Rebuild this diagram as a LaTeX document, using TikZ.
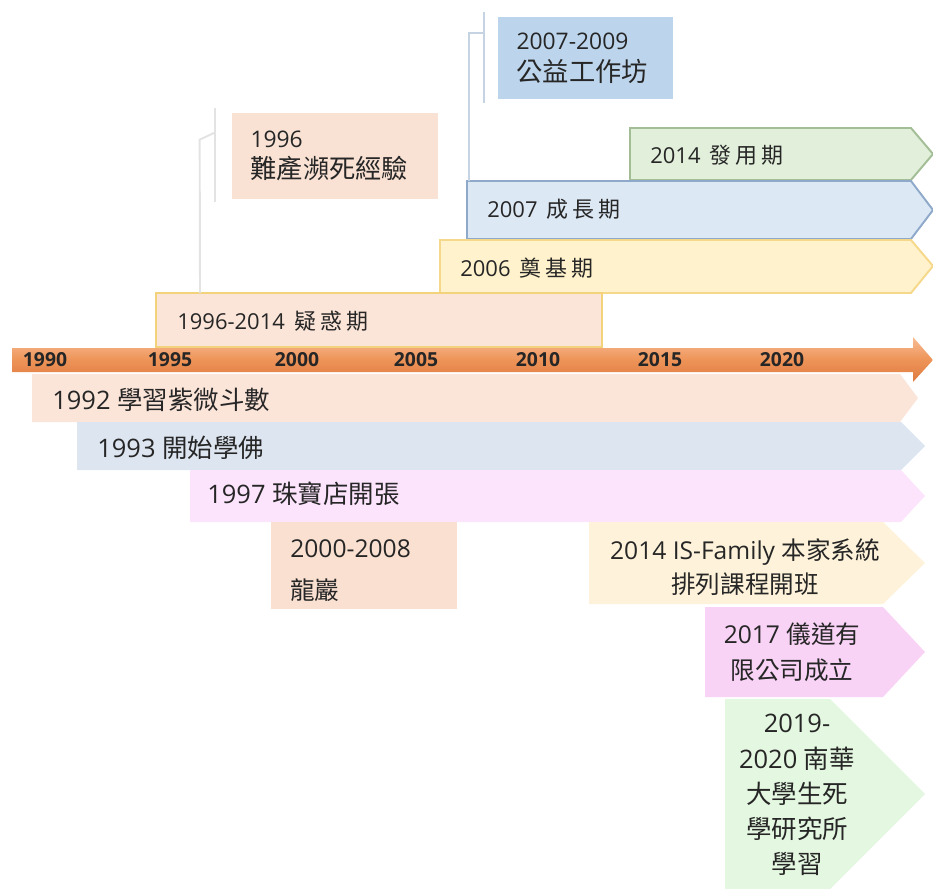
\documentclass[tikz,border=0pt]{standalone}
\usepackage{fontspec}
\setmainfont{Open Sans}
\newfontfamily\cjk{Noto Sans CJK TC}
\newfontfamily\cjkl[Scale=1.15]{Noto Sans CJK TC}
\newfontfamily\cjksp[LetterSpace=18]{Noto Sans CJK TC}
\usetikzlibrary{calc}

\definecolor{txt}{HTML}{262626}
\definecolor{workfill}{HTML}{BDD5EC}
\definecolor{nearfill}{HTML}{F9E2D4}
\definecolor{usefill}{HTML}{E2EFDA}
\definecolor{usedraw}{HTML}{A3BE96}
\definecolor{growfill}{HTML}{DDE8F5}
\definecolor{growdraw}{HTML}{8EA9C9}
\definecolor{basefill}{HTML}{FFF2CC}
\definecolor{basedraw}{HTML}{F5D88A}
\definecolor{doubtfill}{HTML}{FBE5D8}
\definecolor{doubtdraw}{HTML}{F2D27A}
\definecolor{axtop}{HTML}{F8BC94}
\definecolor{axmid}{HTML}{EE9459}
\definecolor{axbot}{HTML}{DE7A3E}
\definecolor{ziweifill}{HTML}{FBE4D8}
\definecolor{buddhafill}{HTML}{DDE5F0}
\definecolor{shopfill}{HTML}{FCE5FC}
\definecolor{longfill}{HTML}{F9E0D0}
\definecolor{isfamfill}{HTML}{FEF3DA}
\definecolor{yidaofill}{HTML}{F9D3F6}
\definecolor{nanhuafill}{HTML}{E4F7E0}
\definecolor{brkblue}{HTML}{C6D3E2}
\definecolor{brkgrey}{HTML}{E3E3E3}

\tikzset{
    lbl/.style={anchor=west, inner sep=0pt, text=txt},
    phasefont/.style={font=\fontsize{12.5}{15}\selectfont},
    eventfont/.style={font=\fontsize{14.5}{17}\selectfont},
    yearlbl/.style={inner sep=0pt, text=txt, font=\fontsize{11}{13}\selectfont\bfseries},
    callbox/.style={inner xsep=0.37cm, align=left, text=txt, font=\fontsize{13}{18}\selectfont},
    bracket/.style={line width=1.1pt},
    phaseline/.style={line width=1.1pt},
}

\begin{document}
\begin{tikzpicture}[x=0.02cm, y=-0.02cm]
    \useasboundingbox (0,0) rectangle (933,889);

    % callouts
    \node[callbox, fill=workfill, minimum width=3.5cm, minimum height=1.64cm, text width=2.76cm] (work) at (585.5,58) {2007-2009\\\cjkl 公益工作坊};
    \node[callbox, fill=nearfill, minimum width=4.12cm, minimum height=1.72cm, text width=3.38cm] (near) at (335,156) {1996\\\cjkl 難產瀕死經驗};

    % phases
    \draw[phaseline, fill=usefill, draw=usedraw] (630,128) -- (911,128) -- (933,154) -- (911,180) -- (630,180) -- cycle;
    \draw[phaseline, fill=growfill, draw=growdraw] (467,181) -- (911,181) -- (933,210) -- (911,239) -- (467,239) -- cycle;
    \draw[phaseline, fill=basefill, draw=basedraw] (440,240) -- (911,240) -- (933,266) -- (911,293) -- (440,293) -- cycle;
    \draw[phaseline, fill=doubtfill, draw=doubtdraw] (156,293) rectangle (602,347);
    \node[lbl, phasefont] (use) at (650,155) {2014\, \cjksp 發用期};
    \node[lbl, phasefont] (grow) at (487,209) {2007\, \cjksp 成長期};
    \node[lbl, phasefont] (base) at (460,268) {2006\, \cjksp 奠基期};
    \node[lbl, phasefont] (doubt) at (177,321) {1996-2014\, \cjksp 疑惑期};

    \coordinate (growtop) at (469,181);
    \coordinate (doubttop) at (200,293);
    \draw[bracket, brkblue] ($(work.north west)+(-14,-5)$) -- ($(work.south west)+(-14,4)$);
    \draw[bracket, brkblue] ($(work.north west)+(-14,16)$) -| (growtop);
    \draw[bracket, brkgrey] ($(near.north west)+(-17,-5)$) -- ($(near.south west)+(-17,3)$);
    \draw[bracket, brkgrey] ($(near.north west)+(-17,20)$) -- ($(near.north west)+(-32,27)$) -- (doubttop);

    % time axis
    \shade[top color=axtop, bottom color=axbot, middle color=axmid] (12,348) -- (913,348) -- (913,337) -- (933,360) -- (913,382) -- (913,372) -- (12,372) -- cycle;
    \node[yearlbl] (y1990) at (45,360) {1990};
    \node[yearlbl] (y1995) at (170,360) {1995};
    \node[yearlbl] (y2000) at (297,360) {2000};
    \node[yearlbl] (y2005) at (416,360) {2005};
    \node[yearlbl] (y2010) at (538,360) {2010};
    \node[yearlbl] (y2015) at (660,360) {2015};
    \node[yearlbl] (y2020) at (782,360) {2020};

    % events
    \fill[ziweifill] (32,374) -- (900,374) -- (918,398) -- (900,422) -- (32,422) -- cycle;
    \fill[buddhafill] (77,422) -- (901,422) -- (925,446) -- (901,470) -- (77,470) -- cycle;
    \fill[shopfill] (190,470) -- (901,470) -- (925,496) -- (901,522) -- (190,522) -- cycle;
    \fill[longfill] (271,522) rectangle (457,609);
    \fill[isfamfill] (589,522) -- (883,522) -- (925,563) -- (883,604) -- (589,604) -- cycle;
    \fill[yidaofill] (705,607) -- (883,607) -- (925,652) -- (883,697) -- (705,697) -- cycle;
    \fill[nanhuafill] (725,699) -- (830,699) -- (925,794) -- (830,889) -- (725,889) -- cycle;

    \node[lbl, eventfont] (ziwei) at (52,400) {1992 \cjk 學習紫微斗數};
    \node[lbl, eventfont] (buddha) at (97,448) {1993 \cjk 開始學佛};
    \node[lbl, eventfont] (shop) at (207,494) {1997 \cjk 珠寶店開張};
    \node[lbl, align=left, font=\fontsize{14}{24}\selectfont] (long) at (290,571) {2000-2008\\{\cjk 龍巖}};
    \node[inner sep=0pt, text=txt, align=center, font=\fontsize{14}{19.5}\selectfont] (isfam) at (745,567) {2014 IS-Family {\cjk 本家系統}\\{\cjk 排列課程開班}};
    \node[inner sep=0pt, text=txt, align=center, font=\fontsize{14}{20.5}\selectfont] (yidao) at (792,652) {2017 {\cjk 儀道有}\\{\cjk 限公司成立}};
    \node[inner sep=0pt, text=txt, align=center, font=\fontsize{14.5}{20}\selectfont] (nanhua) at (797,795) {2019-\\2020 {\cjk 南華}\\{\cjk 大學生死}\\{\cjk 學研究所}\\{\cjk 學習}};
\end{tikzpicture}
\end{document}
